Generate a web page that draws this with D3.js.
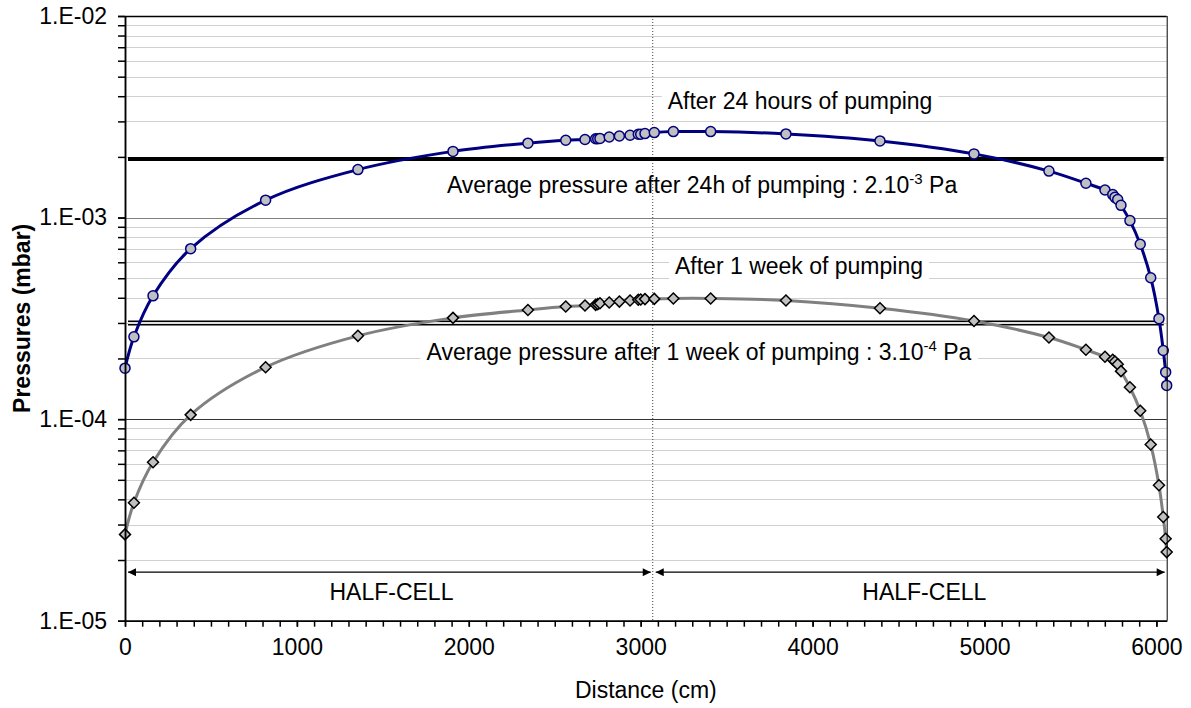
<!DOCTYPE html>
<meta charset="utf-8">
<script src="https://cdn.jsdelivr.net/npm/d3@7/dist/d3.min.js"></script>
<style>
  body { margin: 0; background: #fff; }
  text { font-family: "Liberation Sans", Arial, sans-serif; fill: #000; }
</style>
<body>
<script>
// distance along the cell (cm), shared by both series
var distance = [0, 52, 163, 382, 818, 1355, 1908, 2344, 2564, 2676, 2738, 2750, 2763, 2817, 2876, 2938,
  2986, 3000, 3025, 3079, 3190, 3407, 3845, 4392, 4939, 5375, 5590, 5701, 5746, 5759, 5775, 5794,
  5846, 5906, 5967, 6015, 6040, 6054, 6060];
// pressures (mbar)
var after24h = [1.79e-4, 2.56e-4, 4.09e-4, 7.01e-4, 1.22e-3, 1.73e-3, 2.13e-3, 2.34e-3, 2.42e-3, 2.44e-3,
  2.46e-3, 2.46e-3, 2.47e-3, 2.51e-3, 2.54e-3, 2.56e-3, 2.59e-3, 2.59e-3, 2.61e-3, 2.64e-3, 2.67e-3,
  2.67e-3, 2.60e-3, 2.40e-3, 2.07e-3, 1.70e-3, 1.48e-3, 1.37e-3, 1.30e-3, 1.26e-3, 1.23e-3, 1.15e-3,
  9.66e-4, 7.37e-4, 5.03e-4, 3.15e-4, 2.19e-4, 1.71e-4, 1.47e-4];
var after1week = [2.68e-5, 3.85e-5, 6.11e-5, 1.05e-4, 1.81e-4, 2.59e-4, 3.18e-4, 3.48e-4, 3.62e-4, 3.66e-4,
  3.69e-4, 3.72e-4, 3.76e-4, 3.79e-4, 3.83e-4, 3.88e-4, 3.91e-4, 3.92e-4, 3.94e-4, 3.95e-4, 3.97e-4,
  3.97e-4, 3.88e-4, 3.55e-4, 3.07e-4, 2.54e-4, 2.21e-4, 2.04e-4, 1.97e-4, 1.93e-4, 1.87e-4, 1.73e-4,
  1.44e-4, 1.10e-4, 7.48e-5, 4.70e-5, 3.27e-5, 2.55e-5, 2.19e-5];
var avg24h = 1.95e-3, avg1week = 3.0e-4;

var yTicks = [1e-5, 1e-4, 1e-3, 1e-2];
var yTickLabels = ["1.E-05", "1.E-04", "1.E-03", "1.E-02"];
var xTicks = [0, 1000, 2000, 3000, 4000, 5000, 6000];
var xTickLabels = ["0", "1000", "2000", "3000", "4000", "5000", "6000"];
var halfCell = [0, 3070, 6060];
var halfCellLabelX = [1550, 4650];

var width = 1191, height = 708;
var margin = {top: 16, right: 24.3, bottom: 87.3, left: 125};
var fs = "23px";

var svg = d3.select("body").append("svg")
  .attr("width", width)
  .attr("height", height);

var x = d3.scaleLinear().domain([0, 6060]).range([margin.left, width - margin.right]);
var y = d3.scaleLog().domain([1e-5, 1e-2]).range([height - margin.bottom, margin.top]);
var x0 = x.range()[0], x1 = x.range()[1], yTop = y.range()[1], yBot = y.range()[0];

var defs = svg.append("defs");
defs.append("marker")
  .attr("id", "arrow")
  .attr("viewBox", "0 0 10 10")
  .attr("refX", 10).attr("refY", 5)
  .attr("markerWidth", 10).attr("markerHeight", 8)
  .attr("markerUnits", "userSpaceOnUse")
  .attr("orient", "auto-start-reverse")
  .append("path").attr("d", "M0,0L10,5L0,10Z").attr("fill", "#000");

// minor gridlines
var minor = [];
yTicks.slice(0, 3).forEach(function (d) {
  for (var k = 2; k <= 9; k++) minor.push(d * k);
});
svg.append("g").selectAll("line")
  .data(minor)
  .enter().append("line")
  .attr("x1", x0).attr("x2", x1)
  .attr("y1", function (d) { return Math.round(y(d)) + 0.5; })
  .attr("y2", function (d) { return Math.round(y(d)) + 0.5; })
  .attr("stroke", "#d0d0d0");

// major gridlines
svg.append("g").selectAll("line")
  .data([1e-4, 1e-3])
  .enter().append("line")
  .attr("x1", x0).attr("x2", x1)
  .attr("y1", function (d) { return Math.round(y(d)) + 0.5; })
  .attr("y2", function (d) { return Math.round(y(d)) + 0.5; })
  .attr("stroke", function (d) { return d === 1e-3 ? "#808080" : "#333"; });

// annotation texts (white boxes hide gridlines)
var notes = [
  {t: "After 24 hours of pumping", cx: 3927, v: 3.46e-3},
  {t: "Average pressure after 24h of pumping : 2.10", sup: "-3", tail: " Pa", cx: 3357, v: 1.32e-3},
  {t: "After 1 week of pumping", cx: 3921, v: 5.25e-4},
  {t: "Average pressure after 1 week of pumping : 3.10", sup: "-4", tail: " Pa", cx: 3339, v: 1.97e-4}
];
var bgLayer = svg.append("g");
var lineLayer = svg.append("g");
var noteLayer = svg.append("g");
notes.forEach(function (n) {
  var t = noteLayer.append("text")
    .attr("x", x(n.cx)).attr("y", y(n.v))
    .attr("text-anchor", "middle")
    .style("font-size", fs);
  t.append("tspan").text(n.t);
  if (n.sup) {
    t.append("tspan").attr("dy", -9).style("font-size", "15px").text(n.sup);
    t.append("tspan").attr("dy", 9).text(n.tail);
  }
  var b = t.node().getBBox();
  bgLayer.append("rect")
    .attr("x", b.x - 6).attr("y", b.y - 1)
    .attr("width", b.width + 12).attr("height", b.height + 2)
    .attr("fill", "#fff");
});

// mid-cell dotted line
lineLayer.append("line")
  .attr("x1", x(halfCell[1])).attr("x2", x(halfCell[1]))
  .attr("y1", yTop).attr("y2", yBot)
  .attr("stroke", "#444").attr("stroke-width", 1)
  .attr("stroke-dasharray", "1,2");

// average pressure lines
lineLayer.append("line")
  .attr("x1", x0 + 3).attr("x2", x1 - 3)
  .attr("y1", y(avg24h)).attr("y2", y(avg24h))
  .attr("stroke", "#000").attr("stroke-width", 4);
lineLayer.append("line")
  .attr("x1", x0 + 3).attr("x2", x1 - 3)
  .attr("y1", y(avg1week)).attr("y2", y(avg1week))
  .attr("stroke", "#000").attr("stroke-width", 5);
lineLayer.append("line")
  .attr("x1", x0 + 3).attr("x2", x1 - 3)
  .attr("y1", y(avg1week)).attr("y2", y(avg1week))
  .attr("stroke", "#e0e0e0").attr("stroke-width", 2);

// half-cell arrows
[[0, 1], [1, 2]].forEach(function (p, i) {
  lineLayer.append("line")
    .attr("x1", x(halfCell[p[0]]) + 3).attr("x2", x(halfCell[p[1]]) - 2)
    .attr("y1", y(1.74e-5)).attr("y2", y(1.74e-5))
    .attr("stroke", "#000").attr("stroke-width", 1.3)
    .attr("marker-start", "url(#arrow)")
    .attr("marker-end", "url(#arrow)");
  noteLayer.append("text")
    .attr("x", x(halfCellLabelX[i])).attr("y", y(1.74e-5) + 28)
    .attr("text-anchor", "middle")
    .style("font-size", fs)
    .text("HALF-CELL");
});

// series
var line = d3.line()
  .x(function (d) { return x(d[0]); })
  .y(function (d) { return y(d[1]); })
  .curve(d3.curveCatmullRom.alpha(0.5));

var s24 = d3.zip(distance, after24h);
var s1w = d3.zip(distance, after1week);

var series = svg.append("g");
series.append("path").datum(s1w)
  .attr("d", line).attr("fill", "none")
  .attr("stroke", "#808080").attr("stroke-width", 3);
series.append("path").datum(s24)
  .attr("d", line).attr("fill", "none")
  .attr("stroke", "#000080").attr("stroke-width", 3);

series.append("g").selectAll("path")
  .data(s1w)
  .enter().append("path")
  .attr("d", "M0,-5.5L5.5,0L0,5.5L-5.5,0Z")
  .attr("transform", function (d) { return "translate(" + x(d[0]) + "," + y(d[1]) + ")"; })
  .attr("fill", "#c0c0c0").attr("stroke", "#000").attr("stroke-width", 1.5);

series.append("g").selectAll("circle")
  .data(s24)
  .enter().append("circle")
  .attr("cx", function (d) { return x(d[0]); })
  .attr("cy", function (d) { return y(d[1]); })
  .attr("r", 5)
  .attr("fill", "#c0c0c0").attr("stroke", "#000080").attr("stroke-width", 1.5);

// frame
svg.append("line").attr("x1", x0).attr("x2", x1).attr("y1", yTop + 0.5).attr("y2", yTop + 0.5)
  .attr("stroke", "#000").attr("stroke-width", 1.5);
svg.append("line").attr("x1", x1 + 0.5).attr("x2", x1 + 0.5).attr("y1", yTop).attr("y2", yBot)
  .attr("stroke", "#000").attr("stroke-width", 1);

// y axis
var yAxis = svg.append("g")
  .attr("transform", "translate(" + x0 + ",0)")
  .call(d3.axisLeft(y).tickValues(minor.concat(yTicks)).tickFormat("").tickSize(7).tickSizeOuter(0));
var yLab = svg.append("g")
  .attr("transform", "translate(" + x0 + ",0)")
  .call(d3.axisLeft(y).tickValues(yTicks)
    .tickFormat(function (d, i) { return yTickLabels[i]; })
    .tickSize(7).tickPadding(11).tickSizeOuter(0));
[yAxis, yLab].forEach(function (g) {
  g.selectAll("path, line").attr("stroke", "#000").attr("stroke-width", 1.5);
  g.selectAll("text").style("font-size", fs).style("font-family", "Liberation Sans, Arial, sans-serif");
});

// x axis
var xAxis = svg.append("g")
  .attr("transform", "translate(0," + yBot + ")")
  .call(d3.axisBottom(x).tickValues(d3.range(0, 6001, 100)).tickFormat("").tickSize(6).tickSizeOuter(0));
var xLab = svg.append("g")
  .attr("transform", "translate(0," + yBot + ")")
  .call(d3.axisBottom(x).tickValues(xTicks)
    .tickFormat(function (d, i) { return xTickLabels[i]; })
    .tickSize(6).tickPadding(12).tickSizeOuter(0));
[xAxis, xLab].forEach(function (g) {
  g.selectAll("path, line").attr("stroke", "#000").attr("stroke-width", 1.5);
  g.selectAll("text").style("font-size", fs).style("font-family", "Liberation Sans, Arial, sans-serif");
});

// axis titles
svg.append("text")
  .attr("transform", "translate(30," + ((yTop + yBot) / 2) + ") rotate(-90)")
  .attr("text-anchor", "middle")
  .style("font-size", fs).style("font-weight", "bold")
  .text("Pressures (mbar)");
svg.append("text")
  .attr("x", (x0 + x1) / 2).attr("y", 698)
  .attr("text-anchor", "middle")
  .style("font-size", fs)
  .text("Distance (cm)");
</script>
</body>
